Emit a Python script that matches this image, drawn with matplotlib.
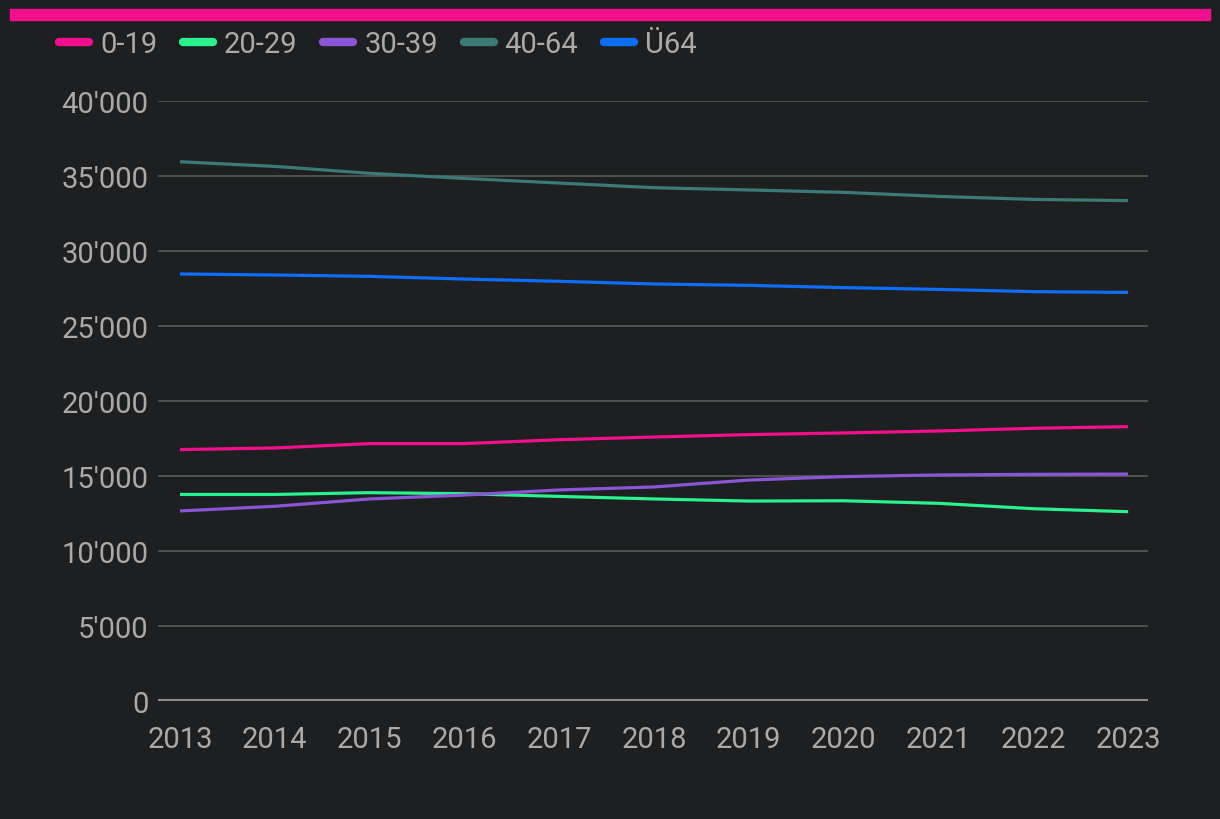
import matplotlib
matplotlib.use("Agg")
import matplotlib.pyplot as plt
from matplotlib.patches import Rectangle
from matplotlib.ticker import FuncFormatter

years = [2013, 2014, 2015, 2016, 2017, 2018, 2019, 2020, 2021, 2022, 2023]
series_names = ["0-19", "20-29", "30-39", "40-64", "Ü64"]
v_0_19 = [16760, 16870, 17160, 17160, 17420, 17600, 17760, 17870, 18000, 18180, 18290]
v_20_29 = [13770, 13770, 13890, 13820, 13640, 13470, 13330, 13350, 13180, 12820, 12620]
v_30_39 = [12670, 12980, 13470, 13730, 14070, 14270, 14730, 14960, 15070, 15110, 15130]
v_40_64 = [35950, 35640, 35180, 34840, 34530, 34220, 34070, 33910, 33640, 33440, 33360]
v_u64 = [28470, 28400, 28310, 28130, 27980, 27800, 27710, 27560, 27440, 27290, 27240]
colors = ["#f50f8c", "#2af28c", "#8b55d6", "#3c7a78", "#0d6efd"]

bg = "#1e1f21"
txt = "#aaaaaa"

plt.rcParams['font.family'] = ['Roboto', 'DejaVu Sans']
fig = plt.figure(figsize=(12.2, 8.2), dpi=100, facecolor=bg)
fig.patches.append(Rectangle((10/1220, 1-21/820), 1200/1220, 11/820,
                             transform=fig.transFigure, color="#f50f8c", zorder=5))

ax = fig.add_axes([158/1220, 118/820, 990/1220, 600/820])
ax.set_facecolor(bg)
for name, vals, c in zip(series_names, [v_0_19, v_20_29, v_30_39, v_40_64, v_u64], colors):
    ax.plot(years, vals, color=c, lw=2.3, label=name, solid_capstyle='butt', zorder=3)

ax.set_xlim(2013 - 22/94.8, 2023 + 20/94.8)
ax.set_ylim(0, 40000)
ax.set_yticks(range(0, 40001, 5000))
ax.set_xticks(years)
ax.yaxis.set_major_formatter(FuncFormatter(lambda v, p: f"{int(v):,}".replace(",", "'")))
ax.grid(axis='y', color="#5a5a5a", lw=1.2, zorder=1)
ax.axhline(0, color="#8c8c8c", lw=3, zorder=2)
for s in ax.spines.values():
    s.set_visible(False)
ax.tick_params(axis='both', length=0, colors=txt, labelsize=21)
ax.tick_params(axis='y', pad=7)
ax.tick_params(axis='x', pad=17)

leg = fig.legend(loc='upper left', bbox_to_anchor=(59/1220, 1-31/820), ncol=5, frameon=False,
                 fontsize=21, labelcolor=txt, handlelength=1.03, handletextpad=0.38,
                 columnspacing=0.88, borderaxespad=0, borderpad=0)
for h in leg.get_lines():
    h.set_linewidth(6)
    h.set_solid_capstyle('round')

fig.savefig("out.png", dpi=100, facecolor=bg)
